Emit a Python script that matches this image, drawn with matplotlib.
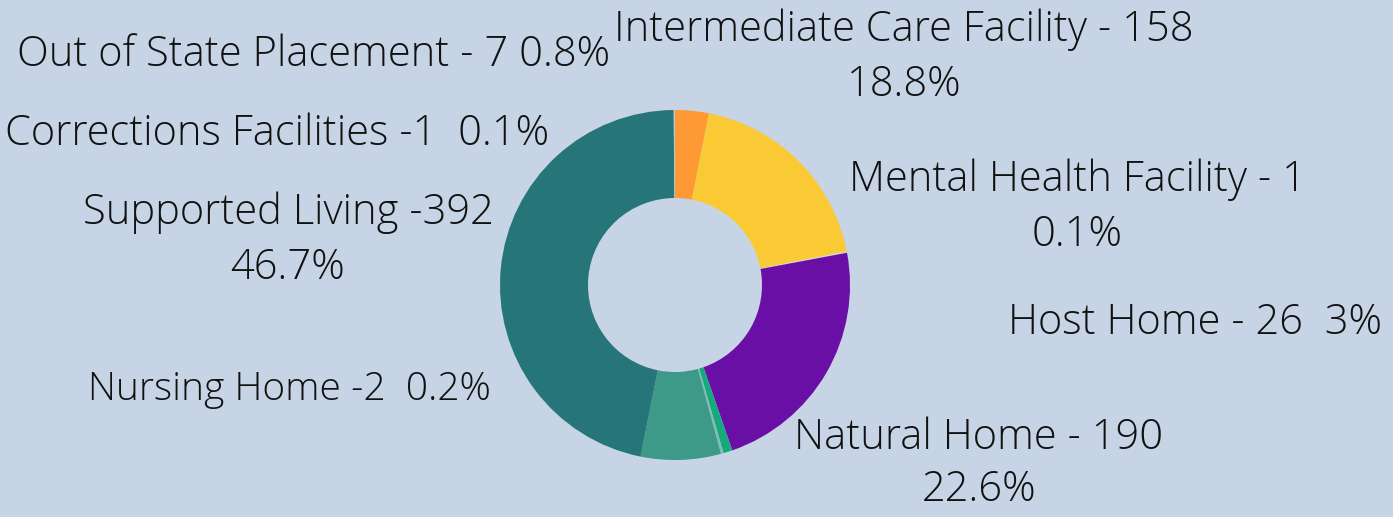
import matplotlib.pyplot as plt

plt.rcParams.update({
    "font.family": ["Open Sans", "DejaVu Sans"],
    "figure.dpi": 100,
})

BG = "#C6D4E5"

# slices clockwise from the top
slice_names = [
    "Host Home", "Intermediate Care Facility", "Mental Health Facility",
    "Natural Home", "Out of State Placement", "Nursing Home", "Other",
    "Supported Living", "Corrections Facilities",
]
slice_values = [26, 158, 1, 190, 7, 2, 62, 392, 1]
slice_colors = [
    "#FF9933", "#F9CA33", "#D9D9D9", "#6A0FA6", "#16A97B",
    "#7FBFB0", "#3D9988", "#267679", "#B8C8D0",
]

# label lines: (text, x, y, ha) in pixel coords of the 1393x517 canvas
label_lines = [
    ("Out of State Placement - 7 0.8%", 17, 52, "left"),
    ("Intermediate Care Facility - 158", 904, 27, "center"),
    ("18.8%", 904, 82, "center"),
    ("Corrections Facilities -1  0.1%", 5, 131, "left"),
    ("Mental Health Facility - 1", 1077, 177, "center"),
    ("0.1%", 1077, 232, "center"),
    ("Supported Living -392", 288, 210, "center"),
    ("46.7%", 288, 265, "center"),
    ("Host Home - 26  3%", 1008, 320, "left"),
    ("Nursing Home -2  0.2%", 88, 387, "left"),
    ("Natural Home - 190", 979, 435, "center"),
    ("22.6%", 979, 487, "center"),
]
small_lines = {"Nursing Home -2  0.2%"}

W, H = 1393, 517

fig = plt.figure(figsize=(W / 100, H / 100), dpi=100)
fig.patch.set_facecolor(BG)
ax = fig.add_axes([0, 0, 1, 1])
ax.set_facecolor(BG)

ax.pie(
    slice_values,
    colors=slice_colors,
    startangle=90,
    counterclock=False,
    center=(675, H - 285),
    radius=175,
    wedgeprops={"width": 88, "edgecolor": "none", "linewidth": 0},
    frame=True,
)
ax.set_xlim(0, W)
ax.set_ylim(0, H)
ax.axis("off")

for txt, x, y, ha in label_lines:
    size = 28 if txt in small_lines else 30
    ax.text(x, H - y - 3, txt, ha=ha, va="center", fontsize=size,
            fontweight="light", color="#111111")

fig.savefig("out.png", dpi=100, facecolor=BG)
